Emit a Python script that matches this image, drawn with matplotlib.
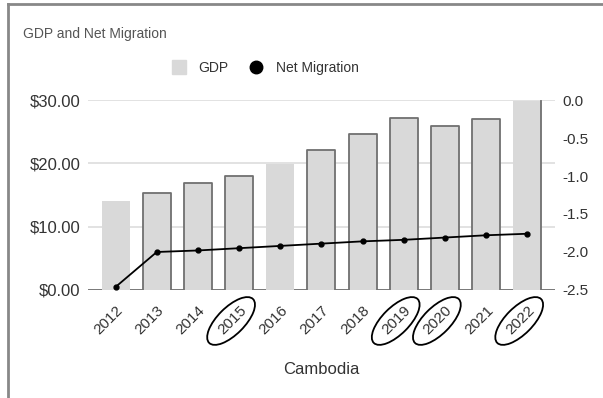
import numpy as np
import matplotlib
matplotlib.use('Agg')
import matplotlib.pyplot as plt
from matplotlib.patches import Ellipse
from matplotlib.lines import Line2D
from matplotlib.transforms import ScaledTranslation

plt.rcParams['font.family'] = ['Liberation Sans', 'DejaVu Sans']

# Cambodia: GDP (billions USD) and net migration
years = [2012, 2013, 2014, 2015, 2016, 2017, 2018, 2019, 2020, 2021, 2022]
gdp = [14.0, 15.3, 16.9, 18.0, 19.9, 22.1, 24.6, 27.1, 25.9, 27.0, 29.9]
net_migration = [-2.46, -2.0, -1.98, -1.95, -1.92, -1.89, -1.86, -1.84, -1.81, -1.78, -1.76]

# bars traced by hand, and years circled on the axis
outlined = [2013, 2014, 2015, 2017, 2018, 2019, 2020, 2021]
right_edge_only = [2022]
circled = [2015, 2019, 2020, 2022]

bar_color = '#d9d9d9'
text_color = '#333333'
grid_color = '#dddddd'
edge_color = '#707070'

fig = plt.figure(figsize=(6.03, 3.98), dpi=100)
ax = fig.add_axes([0.146, 0.2714, 0.774, 0.4773])
x = np.arange(len(years))
width = 0.68

bars = ax.bar(x, gdp, width=width, color=bar_color, zorder=2)
ax.axhline(0, color=edge_color, lw=1.3, zorder=1)

# hand-drawn outlines around some bars (open at the bottom)
for yr, b in zip(years, bars):
    x0, x1, h = b.get_x(), b.get_x() + b.get_width(), b.get_height()
    if yr in outlined:
        ax.plot([x0, x0, x1, x1], [0, h, h, 0], color=edge_color, lw=1.3,
                solid_joinstyle='round', zorder=3)
    elif yr in right_edge_only:
        ax.plot([x1, x1], [0, h], color=edge_color, lw=1.3, zorder=3)

ax.set_xlim(-0.67, len(years) - 0.33)
ax.set_ylim(0, 30)
ax.set_yticks([0, 10, 20, 30])
ax.set_yticklabels(['$%.2f' % v for v in [0, 10, 20, 30]])
ax.yaxis.grid(True, color=grid_color, lw=1.2, zorder=0)
ax.set_axisbelow(True)
for s in ax.spines.values():
    s.set_visible(False)
ax.tick_params(axis='y', length=0, pad=5.5, labelsize=12, labelcolor=text_color)
ax.set_xticks(x)
ax.set_xticklabels([str(y) for y in years], rotation=45, ha='right', va='center',
                   rotation_mode='anchor')
ax.tick_params(axis='x', length=0, pad=13, labelsize=11, labelcolor=text_color)
for lbl in ax.get_xticklabels():
    lbl.set_transform(lbl.get_transform() + ScaledTranslation(5 / 100, 0, fig.dpi_scale_trans))
ax.set_xlabel('Cambodia', fontsize=12, color=text_color, va='center')
ax.xaxis.set_label_coords(0.5, -0.421)

ax2 = ax.twinx()
ax2.plot(x, net_migration, color='black', lw=1.3, marker='o', ms=3.5, zorder=4)
ax2.set_ylim(-2.5, 0)
rticks = np.arange(-2.5, 0.01, 0.5)
ax2.set_yticks(rticks)
ax2.set_yticklabels(['%.1f' % v for v in rticks])
ax2.tick_params(axis='y', length=0, pad=5.5, labelsize=11, labelcolor=text_color)
for s in ax2.spines.values():
    s.set_visible(False)

# ellipses drawn around the circled year labels
for yr in circled:
    i = years.index(yr)
    tr = fig.dpi_scale_trans + ScaledTranslation(i, 0, ax.transData)
    ell = Ellipse((-0.08, -0.31), 0.62, 0.27, angle=45, fill=False,
                  edgecolor='black', lw=1.3, transform=tr, clip_on=False)
    fig.add_artist(ell)

fig.text(23 / 603, 1 - 34 / 398, 'GDP and Net Migration', fontsize=10,
         color='#555555', va='center')

handles = [Line2D([], [], marker='s', ls='none', color=bar_color, ms=10),
           Line2D([], [], marker='o', ls='none', color='black', ms=9)]
fig.legend(handles, ['GDP', 'Net Migration'], loc='center',
           bbox_to_anchor=(262 / 603, 1 - 68 / 398), ncol=2, frameon=False,
           fontsize=10, labelcolor=text_color, handletextpad=0.4,
           columnspacing=1.0)

# page frame
fig.add_artist(Line2D([8 / 603, 1], [1 - 4 / 398, 1 - 4 / 398], color='#888888', lw=2))
fig.add_artist(Line2D([8 / 603, 8 / 603], [0, 1 - 4 / 398], color='#888888', lw=2))

fig.savefig('out.png', dpi=100)
